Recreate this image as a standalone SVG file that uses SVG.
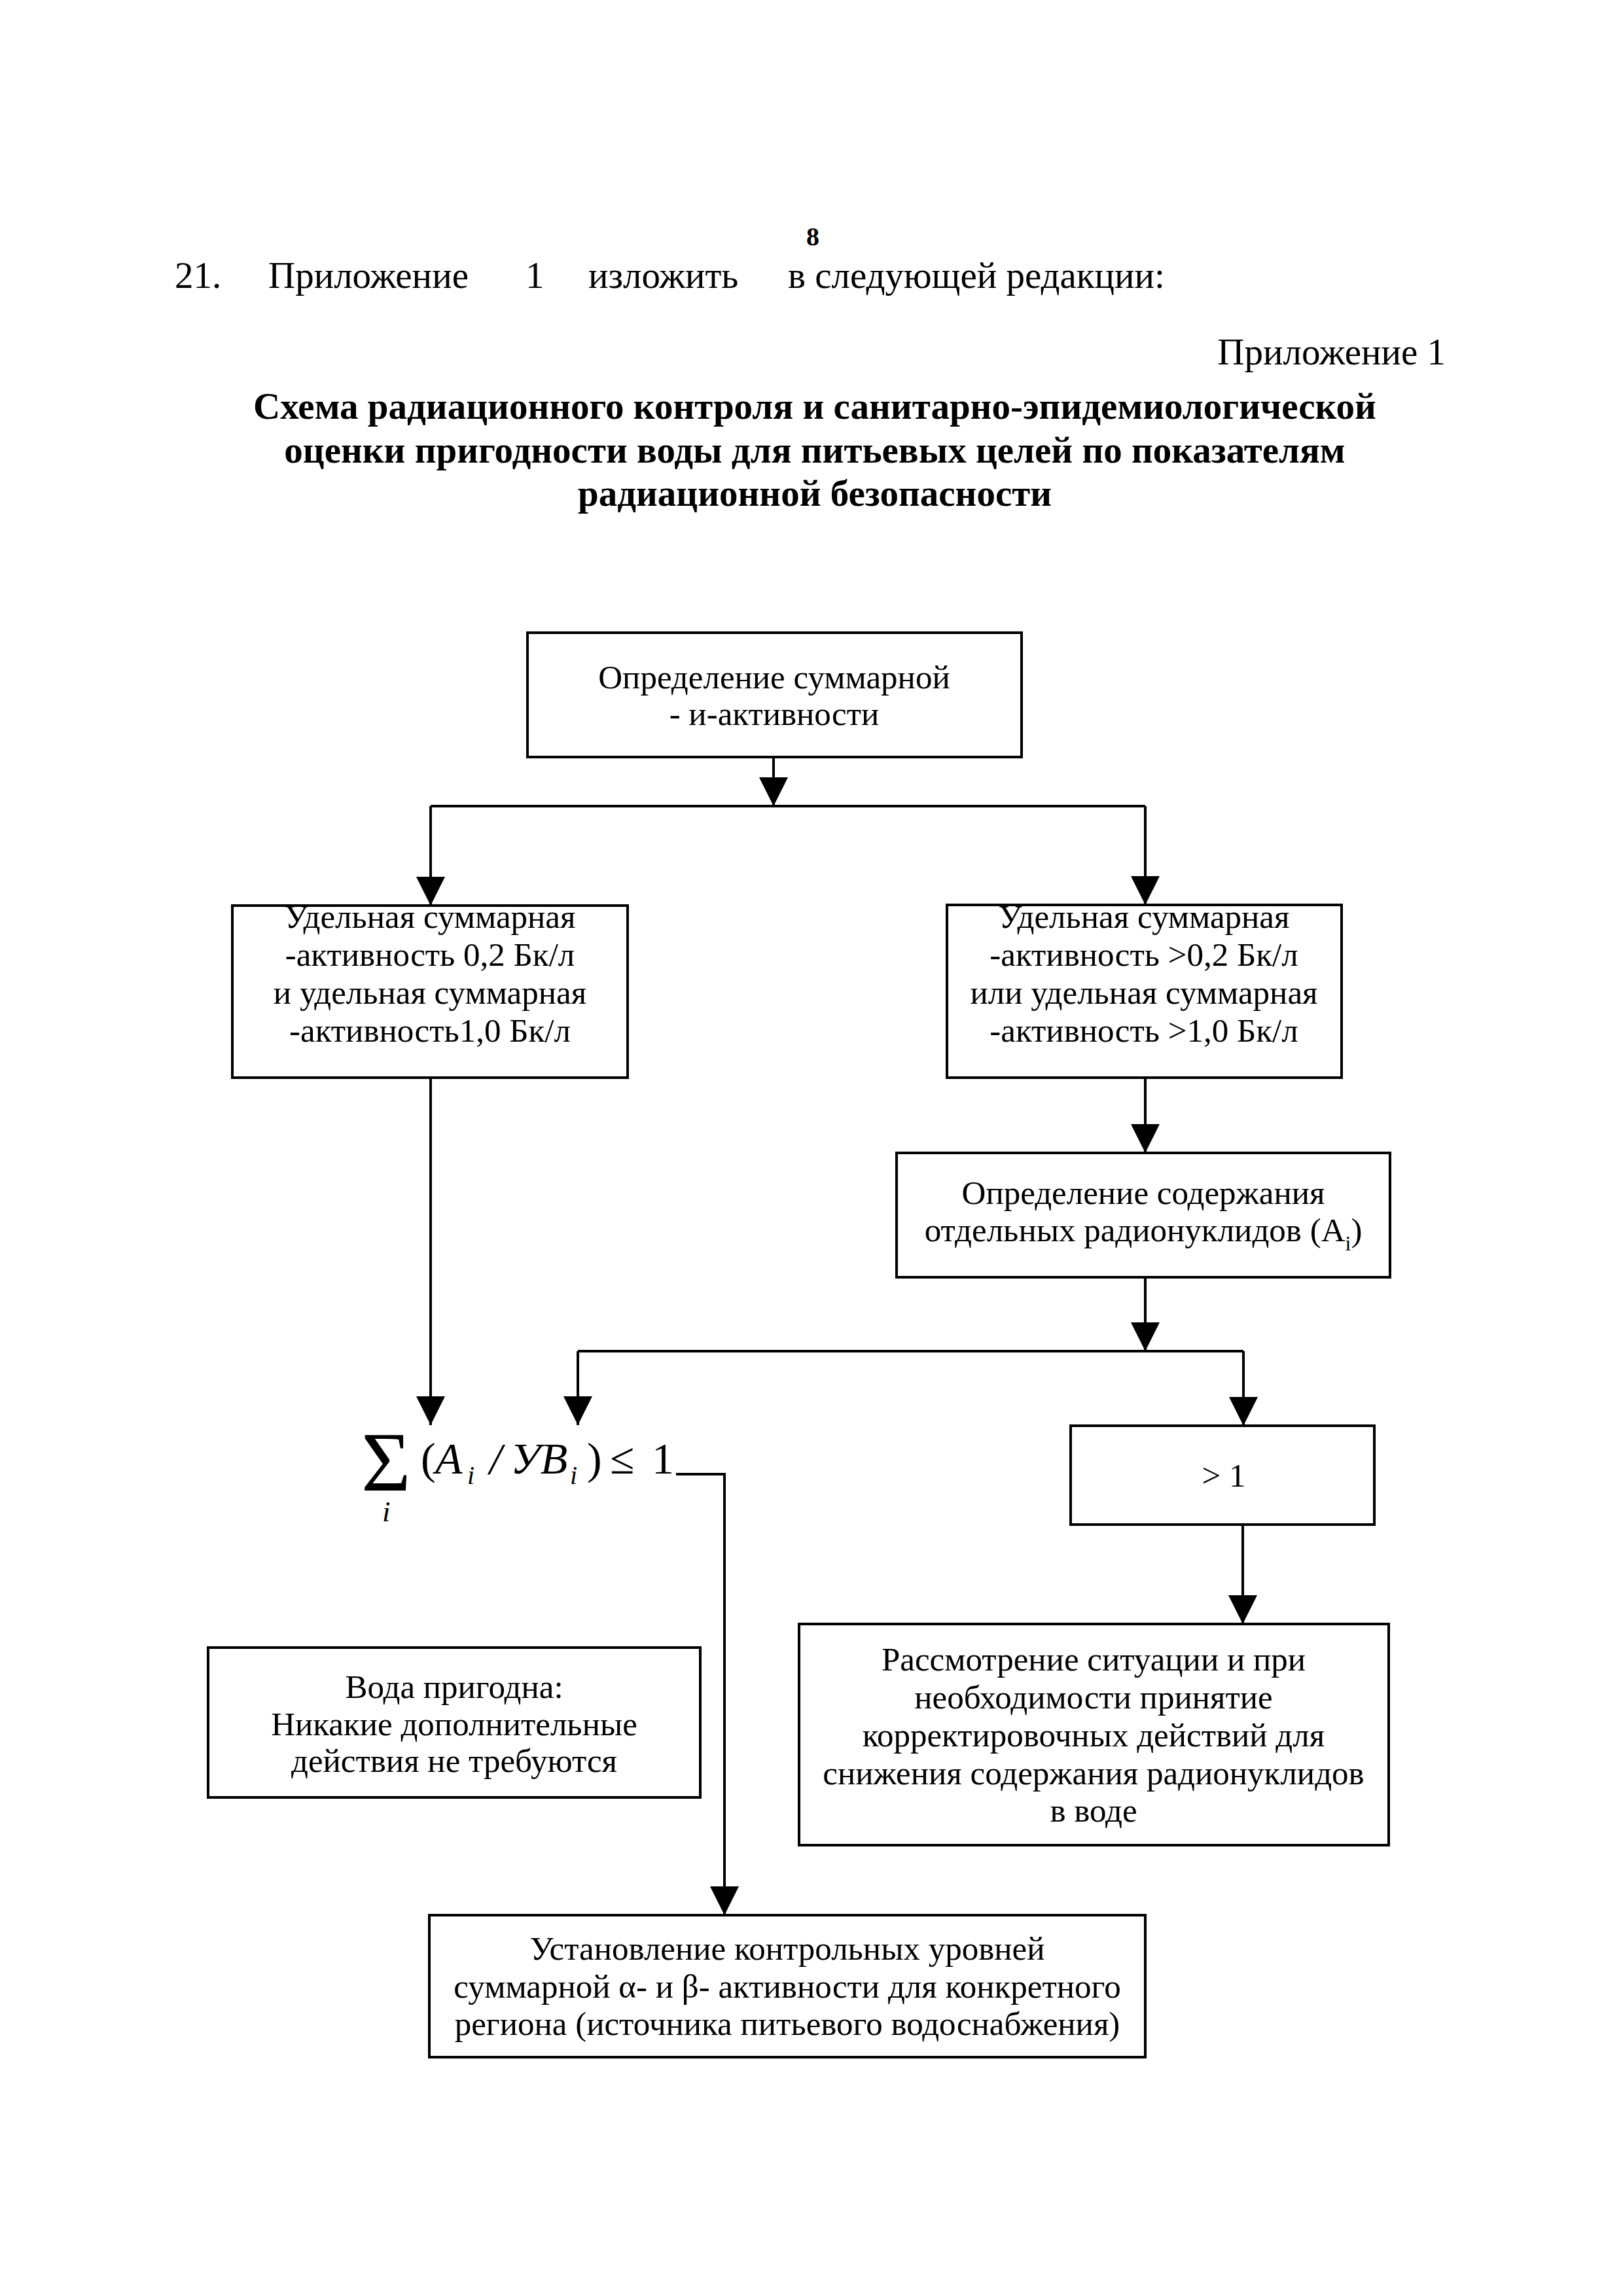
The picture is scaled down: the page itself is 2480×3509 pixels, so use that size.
<svg xmlns="http://www.w3.org/2000/svg" width="2480" height="3509" viewBox="0 0 2480 3509">
<style>
text{font-family:"Liberation Serif","Times New Roman",serif;fill:#000}
.hd{font-size:57px}
.tt{font-size:57px;font-weight:bold;text-anchor:middle}
.bx{font-size:51px;text-anchor:middle}
.box{fill:#fff;stroke:#000;stroke-width:4}
.ln{fill:none;stroke:#000;stroke-width:4}
.it{font-style:italic}
</style>
<defs>
<marker id="ah" markerUnits="userSpaceOnUse" markerWidth="46" markerHeight="44" refX="44" refY="22" orient="auto" viewBox="0 0 46 44">
<path d="M0,0 L44,22 L0,44 Z" fill="#000"/>
</marker>
</defs>
<rect x="0" y="0" width="2480" height="3509" fill="#fff"/>

<g id="header">
<text x="1242" y="375" font-size="40" font-weight="bold" text-anchor="middle">8</text>
<text class="hd" x="267" y="440">21.</text>
<text class="hd" x="410" y="440">Приложение</text>
<text class="hd" x="803" y="440">1</text>
<text class="hd" x="899" y="440">изложить</text>
<text class="hd" x="1204" y="440">в следующей редакции:</text>
<text class="hd" x="2209" y="557" text-anchor="end">Приложение 1</text>
</g>

<g id="title">
<text class="tt" x="1245" y="640">Схема радиационного контроля и санитарно-эпидемиологической</text>
<text class="tt" x="1245" y="707">оценки пригодности воды для питьевых целей по показателям</text>
<text class="tt" x="1245" y="773">радиационной безопасности</text>
</g>

<g id="connectors">
<line class="ln" x1="1182" y1="1157" x2="1182" y2="1232" marker-end="url(#ah)"/>
<line class="ln" x1="658" y1="1232" x2="1750" y2="1232"/>
<line class="ln" x1="658" y1="1232" x2="658" y2="1384" marker-end="url(#ah)"/>
<line class="ln" x1="1750" y1="1232" x2="1750" y2="1383" marker-end="url(#ah)"/>
<line class="ln" x1="658" y1="1647" x2="658" y2="2178" marker-end="url(#ah)"/>
<line class="ln" x1="1750" y1="1647" x2="1750" y2="1762" marker-end="url(#ah)"/>
<line class="ln" x1="1750" y1="1952" x2="1750" y2="2065" marker-end="url(#ah)"/>
<line class="ln" x1="883" y1="2065" x2="1900" y2="2065"/>
<line class="ln" x1="883" y1="2065" x2="883" y2="2178" marker-end="url(#ah)"/>
<line class="ln" x1="1900" y1="2065" x2="1900" y2="2179" marker-end="url(#ah)"/>
<line class="ln" x1="1899" y1="2330" x2="1899" y2="2482" marker-end="url(#ah)"/>
<polyline class="ln" points="1033,2253 1107,2253 1107,2927" marker-end="url(#ah)"/>
</g>

<g id="node-total">
<rect class="box" x="806" y="967" width="755" height="190"/>
<text class="bx" x="1183" y="1052">Определение суммарной</text>
<text class="bx" x="1183" y="1108">- и-активности</text>
</g>

<g id="node-low">
<rect class="box" x="355" y="1384" width="604" height="263"/>
<text class="bx" x="657" y="1418">Удельная суммарная</text>
<text class="bx" x="657" y="1476">-активность 0,2 Бк/л</text>
<text class="bx" x="657" y="1534">и удельная суммарная</text>
<text class="bx" x="657" y="1592">-активность1,0 Бк/л</text>
</g>

<g id="node-high">
<rect class="box" x="1447" y="1383" width="603" height="264"/>
<text class="bx" x="1748" y="1418">Удельная суммарная</text>
<text class="bx" x="1748" y="1476">-активность &gt;0,2 Бк/л</text>
<text class="bx" x="1748" y="1534">или удельная суммарная</text>
<text class="bx" x="1748" y="1592">-активность &gt;1,0 Бк/л</text>
</g>

<g id="node-nuclides">
<rect class="box" x="1370" y="1762" width="754" height="190"/>
<text class="bx" x="1747" y="1840">Определение содержания</text>
<text class="bx" x="1747" y="1897">отдельных радионуклидов (A<tspan font-size="32" dy="14">i</tspan><tspan dy="-14">)</tspan></text>
</g>

<g id="node-formula">
<text x="552" y="2278" font-size="130">Σ</text>
<text x="584" y="2325" font-size="45" class="it">i</text>
<text x="643" y="2252" font-size="68">(</text>
<text x="665" y="2252" font-size="68" class="it">A</text>
<text x="714" y="2268" font-size="40" class="it">i</text>
<text x="748" y="2252" font-size="68" class="it">/</text>
<text x="780" y="2252" font-size="68" class="it">УB</text>
<text x="871" y="2268" font-size="40" class="it">i</text>
<text x="897" y="2252" font-size="68">)</text>
<text x="932" y="2252" font-size="68">≤</text>
<text x="996" y="2252" font-size="68">1</text>
</g>

<g id="node-gt1">
<rect class="box" x="1636" y="2179" width="464" height="151"/>
<text class="bx" x="1870" y="2272">&gt; 1</text>
</g>

<g id="node-ok">
<rect class="box" x="318" y="2518" width="752" height="229"/>
<text class="bx" x="694" y="2595">Вода пригодна:</text>
<text class="bx" x="694" y="2652">Никакие дополнительные</text>
<text class="bx" x="694" y="2708">действия не требуются</text>
</g>

<g id="node-action">
<rect class="box" x="1221" y="2482" width="901" height="338"/>
<text class="bx" x="1671" y="2553">Рассмотрение ситуации и при</text>
<text class="bx" x="1671" y="2611">необходимости принятие</text>
<text class="bx" x="1671" y="2669">корректировочных действий для</text>
<text class="bx" x="1671" y="2727">снижения содержания радионуклидов</text>
<text class="bx" x="1671" y="2784">в воде</text>
</g>

<g id="node-levels">
<rect class="box" x="656" y="2927" width="1094" height="217"/>
<text class="bx" x="1203" y="2995">Установление контрольных уровней</text>
<text class="bx" x="1203" y="3053">суммарной α- и β- активности для конкретного</text>
<text class="bx" x="1203" y="3110">региона (источника питьевого водоснабжения)</text>
</g>
</svg>
